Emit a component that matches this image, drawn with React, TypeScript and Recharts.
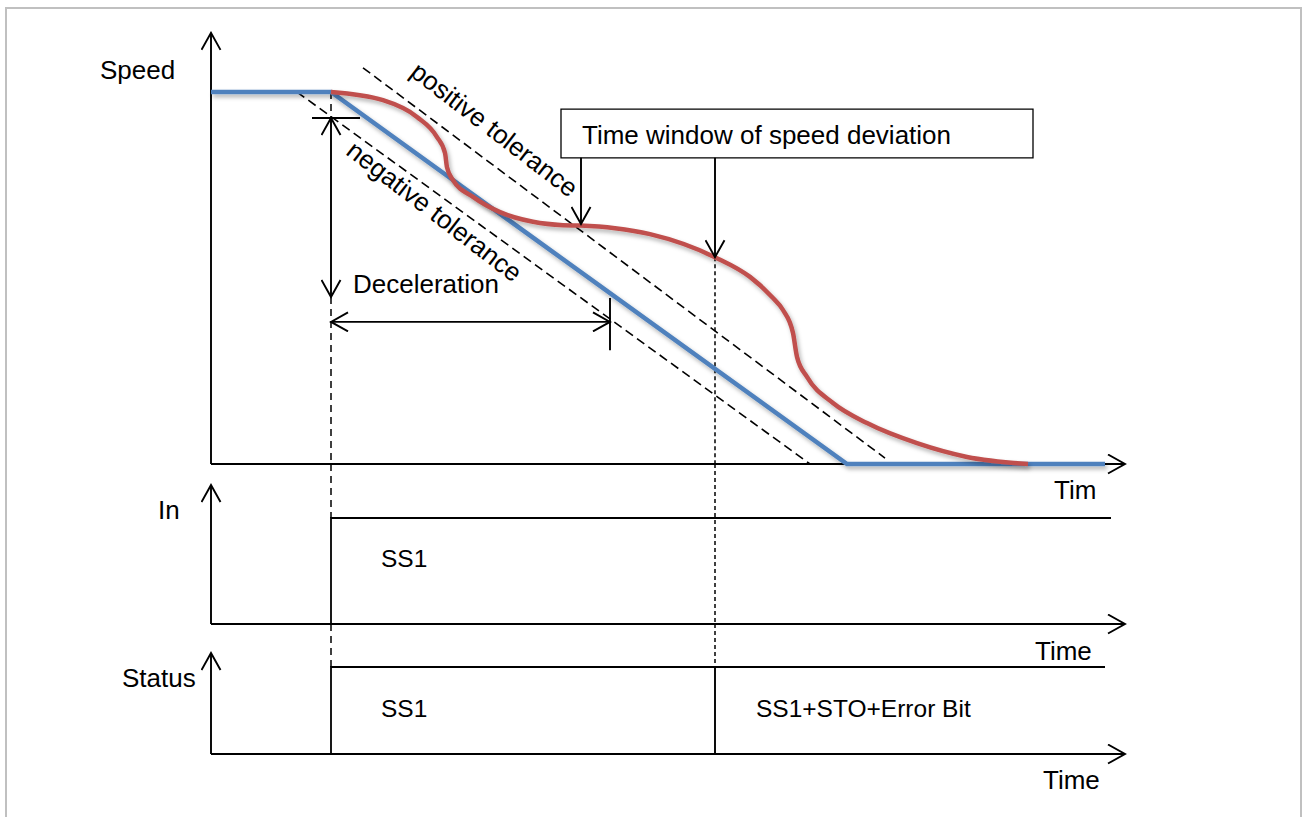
import {
  ComposedChart,
  Line,
  XAxis,
  YAxis,
  ReferenceLine,
  ReferenceArea,
  ReferenceDot,
} from "recharts";

const W = 1307;
const H = 817;

// Axis geometry: where the zero of every axis sits and how many px one unit takes.
const X0 = 211;
const PX_PER_T = 4;
const SPEED_ZERO = 464;
const SPEED_PX = 3.72;
const IN_ZERO = 624;
const IN_PX = 106;
const STATUS_ZERO = 754;
const STATUS_PX = 87;

const domainFor = (zero: number, px: number): [number, number] => [
  -(H - zero) / px,
  zero / px,
];

const FONT = "'Liberation Sans', Arial, sans-serif";

// ---- data (time units, speed in %, signals 0/1) ----
const T_SS1 = 30;
const T_STO = 126;
const T_AXIS_END = 228.5;

const nominalSpeed = [
  { t: 0, v: 100 },
  { t: 30, v: 100 },
  { t: 159, v: 0 },
  { t: 223.5, v: 0 },
];

const actualSpeed = [
  { t: 30, v: 100 },
  { t: 43, v: 97.8 },
  { t: 51.5, v: 93.3 },
  { t: 56.5, v: 87.9 },
  { t: 58.5, v: 83.6 },
  { t: 59, v: 79.8 },
  { t: 60.5, v: 76.3 },
  { t: 65.5, v: 71.8 },
  { t: 72.25, v: 67.7 },
  { t: 80.5, v: 65.1 },
  { t: 88, v: 64.2 },
  { t: 92.25, v: 64.1 },
  { t: 101, v: 63.4 },
  { t: 109.75, v: 61.8 },
  { t: 126, v: 55.6 },
  { t: 134.75, v: 50.3 },
  { t: 140.25, v: 44.9 },
  { t: 143, v: 41.4 },
  { t: 145.5, v: 35.2 },
  { t: 146.5, v: 28.8 },
  { t: 149, v: 23.4 },
  { t: 155.5, v: 16.4 },
  { t: 164, v: 11.0 },
  { t: 176.5, v: 5.6 },
  { t: 189, v: 1.9 },
  { t: 204.25, v: 0 },
];

const negativeTolerance = [
  { t: 21.5, v: 100 },
  { t: 149.75, v: 0 },
];

const positiveTolerance = [
  { t: 38, v: 106.5 },
  { t: 168.5, v: 1.6 },
];

const inSignal = [
  { t: 30, v: 0 },
  { t: 30, v: 1 },
  { t: 225, v: 1 },
];

const statusSignal = [
  { t: 30, v: 0 },
  { t: 30, v: 1 },
  { t: 223.5, v: 1 },
];

// ---- annotation segments: axis, endpoints, style ----
type Seg = {
  axis: string;
  x1: number;
  y1: number;
  x2: number;
  y2: number;
  dash?: string;
  start?: boolean;
  end?: boolean;
  w?: number;
};

const axisSegs: Seg[] = [
  { axis: "speed", x1: 0, y1: 0, x2: 0, y2: 115.9, end: true },
  { axis: "speed", x1: 0, y1: 0, x2: T_AXIS_END, y2: 0, end: true },
  { axis: "in", x1: 0, y1: 0, x2: 0, y2: 1.311, end: true },
  { axis: "in", x1: 0, y1: 0, x2: T_AXIS_END, y2: 0, end: true },
  { axis: "status", x1: 0, y1: 0, x2: 0, y2: 1.161, end: true },
  { axis: "status", x1: 0, y1: 0, x2: T_AXIS_END, y2: 0, end: true },
];

const markerSegs: Seg[] = [
  // SS1 request guide
  { axis: "speed", x1: T_SS1, y1: 100, x2: T_SS1, y2: 93, dash: "7 5", w: 1.5 },
  { axis: "speed", x1: T_SS1, y1: 44.9, x2: T_SS1, y2: 0, dash: "7 5", w: 1.5 },
  { axis: "in", x1: T_SS1, y1: 1.509, x2: T_SS1, y2: 1, dash: "7 5", w: 1.5 },
  { axis: "status", x1: T_SS1, y1: 1.494, x2: T_SS1, y2: 1, dash: "7 5", w: 1.5 },
  // STO guide
  { axis: "speed", x1: T_STO, y1: 55.6, x2: T_STO, y2: 0, dash: "4 3", w: 1.5 },
  { axis: "in", x1: T_STO, y1: 1.509, x2: T_STO, y2: 0, dash: "4 3", w: 1.5 },
  { axis: "status", x1: T_STO, y1: 1.494, x2: T_STO, y2: 1, dash: "4 3", w: 1.5 },
  { axis: "status", x1: T_STO, y1: 1, x2: T_STO, y2: 0 },
  // deceleration dimension
  { axis: "speed", x1: 25.25, y1: 93, x2: 37.25, y2: 93 },
  { axis: "speed", x1: T_SS1, y1: 93, x2: T_SS1, y2: 44.9, start: true, end: true },
  { axis: "speed", x1: T_SS1, y1: 38.2, x2: 99.75, y2: 38.2, start: true, end: true },
  { axis: "speed", x1: 99.75, y1: 44.6, x2: 99.75, y2: 30.6 },
  // time window arrows
  { axis: "speed", x1: 92.5, y1: 82.3, x2: 92.5, y2: 64.5, end: true },
  { axis: "speed", x1: T_STO, y1: 82.3, x2: T_STO, y2: 55.6, end: true },
];

type Lbl = {
  axis: string;
  t: number;
  v: number;
  text: string;
  size?: number;
  rotate?: number;
};

const labels: Lbl[] = [
  { axis: "speed", t: -27.75, v: 103.5, text: "Speed" },
  { axis: "speed", t: 210.75, v: -9.4, text: "Tim" },
  { axis: "speed", t: 35.5, v: 46, text: "Deceleration" },
  { axis: "speed", t: 92.75, v: 86, text: "Time window of speed deviation" },
  { axis: "speed", t: 69.5, v: 88, text: "positive tolerance", rotate: 37.5 },
  { axis: "speed", t: 54.5, v: 66, text: "negative tolerance", rotate: 37.5 },
  { axis: "in", t: -13.25, v: 0.991, text: "In" },
  { axis: "in", t: 42.5, v: 0.538, text: "SS1", size: 24.5 },
  { axis: "in", t: 206, v: -0.34, text: "Time" },
  { axis: "status", t: -22.25, v: 0.77, text: "Status" },
  { axis: "status", t: 42.5, v: 0.425, text: "SS1", size: 24.5 },
  { axis: "status", t: 136.25, v: 0.425, text: "SS1+STO+Error Bit", size: 24.5 },
  { axis: "status", t: 208, v: -0.402, text: "Time" },
];

const segShape = (s: Seg) => (p: any) => (
  <line
    x1={p.x1}
    y1={p.y1}
    x2={p.x2}
    y2={p.y2}
    stroke="#000"
    strokeWidth={s.w ?? 1.9}
    strokeDasharray={s.dash}
    markerStart={s.start ? "url(#arrowHead)" : undefined}
    markerEnd={s.end ? "url(#arrowHead)" : undefined}
  />
);

const textShape = (l: Lbl) => (p: any) => (
  <text
    x={p.cx}
    y={p.cy}
    fontFamily={FONT}
    fontSize={l.size ?? 26}
    fill="#000"
    textAnchor={l.rotate ? "middle" : "start"}
    transform={l.rotate ? `rotate(${l.rotate} ${p.cx} ${p.cy})` : undefined}
  >
    {l.text}
  </text>
);

export default function App() {
  return (
    <div
      style={{
        position: "absolute",
        left: 0,
        top: 0,
        width: W,
        height: H,
        background: "#fff",
        overflow: "hidden",
      }}
    >
      <div
        style={{
          position: "absolute",
          left: 5,
          top: 7,
          width: 1297,
          height: 810,
          boxSizing: "border-box",
          borderStyle: "solid",
          borderColor: "#c0c0c0",
          borderWidth: "2px 2px 0 2px",
        }}
      />
      <div style={{ position: "absolute", left: 0, top: 0 }}>
        <ComposedChart
          width={W}
          height={H}
          margin={{ top: 0, right: 0, bottom: 0, left: 0 }}
        >
          <defs>
            <marker
              id="arrowHead"
              viewBox="0 0 20 21"
              refX={18}
              refY={10.5}
              markerWidth={20}
              markerHeight={21}
              markerUnits="userSpaceOnUse"
              orient="auto-start-reverse"
            >
              <path
                d="M1,1 L18,10.5 L1,20"
                fill="none"
                stroke="#000"
                strokeWidth={1.9}
              />
            </marker>
            <filter id="shadow" x="-5%" y="-5%" width="110%" height="120%">
              <feDropShadow
                dx={2}
                dy={3}
                stdDeviation={2}
                floodColor="#000"
                floodOpacity={0.3}
              />
            </filter>
          </defs>

          <XAxis
            dataKey="t"
            type="number"
            hide
            allowDataOverflow
            domain={[-X0 / PX_PER_T, (W - X0) / PX_PER_T]}
          />
          <YAxis
            yAxisId="speed"
            type="number"
            hide
            allowDataOverflow
            domain={domainFor(SPEED_ZERO, SPEED_PX)}
          />
          <YAxis
            yAxisId="in"
            type="number"
            hide
            allowDataOverflow
            domain={domainFor(IN_ZERO, IN_PX)}
          />
          <YAxis
            yAxisId="status"
            type="number"
            hide
            allowDataOverflow
            domain={domainFor(STATUS_ZERO, STATUS_PX)}
          />

          {markerSegs
            .filter((s) => s.dash)
            .map((s, i) => (
              <ReferenceLine
                key={`g-${i}`}
                yAxisId={s.axis}
                segment={[
                  { x: s.x1, y: s.y1 },
                  { x: s.x2, y: s.y2 },
                ]}
                shape={segShape(s)}
              />
            ))}

          <Line
            yAxisId="speed"
            data={negativeTolerance}
            dataKey="v"
            type="linear"
            stroke="#000"
            strokeWidth={1.6}
            strokeDasharray="9 5"
            dot={false}
            activeDot={false}
            isAnimationActive={false}
          />
          <Line
            yAxisId="speed"
            data={positiveTolerance}
            dataKey="v"
            type="linear"
            stroke="#000"
            strokeWidth={1.6}
            strokeDasharray="9 5"
            dot={false}
            activeDot={false}
            isAnimationActive={false}
          />

          {axisSegs.map((s, i) => (
            <ReferenceLine
              key={`a-${i}`}
              yAxisId={s.axis}
              segment={[
                { x: s.x1, y: s.y1 },
                { x: s.x2, y: s.y2 },
              ]}
              shape={segShape(s)}
            />
          ))}

          <Line
            yAxisId="in"
            data={inSignal}
            dataKey="v"
            type="linear"
            stroke="#000"
            strokeWidth={1.8}
            dot={false}
            activeDot={false}
            isAnimationActive={false}
          />
          <Line
            yAxisId="status"
            data={statusSignal}
            dataKey="v"
            type="linear"
            stroke="#000"
            strokeWidth={1.8}
            dot={false}
            activeDot={false}
            isAnimationActive={false}
          />

          <Line
            yAxisId="speed"
            data={nominalSpeed}
            dataKey="v"
            type="linear"
            stroke="#4f81bd"
            strokeWidth={4.5}
            filter="url(#shadow)"
            dot={false}
            activeDot={false}
            isAnimationActive={false}
          />
          <Line
            yAxisId="speed"
            data={actualSpeed}
            dataKey="v"
            type="monotone"
            stroke="#c0504d"
            strokeWidth={4.5}
            filter="url(#shadow)"
            dot={false}
            activeDot={false}
            isAnimationActive={false}
          />

          {markerSegs
            .filter((s) => !s.dash)
            .map((s, i) => (
              <ReferenceLine
                key={`m-${i}`}
                yAxisId={s.axis}
                segment={[
                  { x: s.x1, y: s.y1 },
                  { x: s.x2, y: s.y2 },
                ]}
                shape={segShape(s)}
              />
            ))}

          <ReferenceArea
            yAxisId="speed"
            x1={87.5}
            x2={205.5}
            y1={82.3}
            y2={95.4}
            fill="#fff"
            fillOpacity={1}
            stroke="#000"
            strokeWidth={1.3}
          />

          {labels.map((l, i) => (
            <ReferenceDot
              key={`l-${i}`}
              yAxisId={l.axis}
              x={l.t}
              y={l.v}
              r={1}
              shape={textShape(l)}
            />
          ))}
        </ComposedChart>
      </div>
    </div>
  );
}
